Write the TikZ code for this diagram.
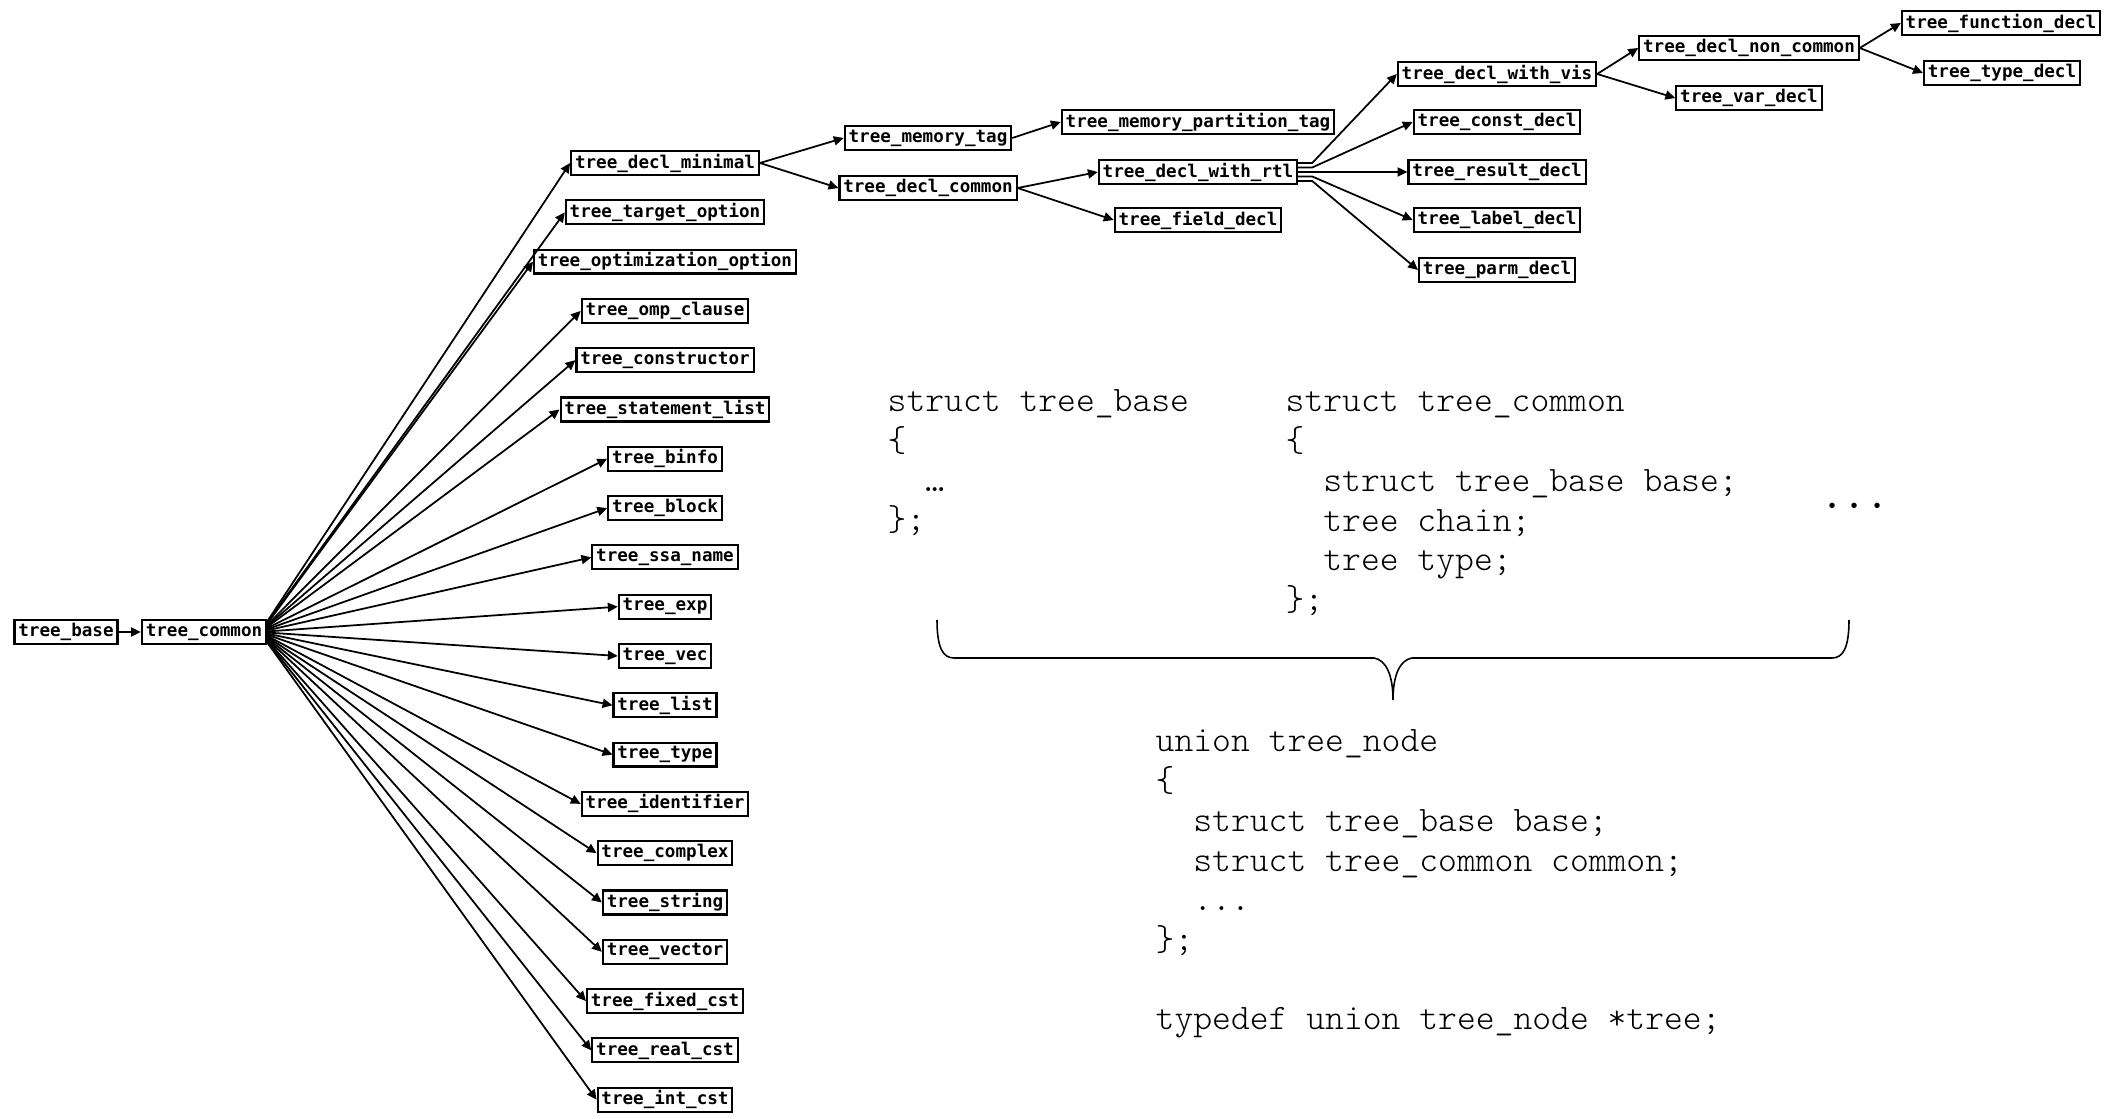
\documentclass[tikz,border=0pt]{standalone}
\usepackage{fontspec}
\newfontfamily\labelfont{DejaVu Sans Mono}
\usetikzlibrary{arrows.meta, calc}

\begin{document}
\begin{tikzpicture}[x=0.01cm, y=-0.01cm]
    \tikzstyle{box}  = [rectangle, draw=black, line width=0.6pt, inner xsep=1.1pt,
                        inner ysep=0pt, minimum height=6.8pt,
                        font=\labelfont\bfseries\fontsize{5}{6}\selectfont]
    \tikzstyle{arr}  = [-{Triangle[length=2.8pt, width=2.6pt]}, line width=0.5pt]
    \tikzstyle{code} = [anchor=base west, inner sep=0pt, align=left,
                        font=\ttfamily\fontseries{l}\fontsize{10.2}{11.3}\selectfont]

    \useasboundingbox (0,0) rectangle (2108,1119);

    % left part of the hierarchy
    \node (base)   [box] at (66,632)  {tree\_base};
    \node (common) [box] at (204,632) {tree\_common};

    \node (declmin)  [box] at (665,163)    {tree\_decl\_minimal};
    \node (target)   [box] at (665,212.3)  {tree\_target\_option};
    \node (optim)    [box] at (665,261.6)  {tree\_optimization\_option};
    \node (omp)      [box] at (665,310.9)  {tree\_omp\_clause};
    \node (ctor)     [box] at (665,360.2)  {tree\_constructor};
    \node (stmtlist) [box] at (665,409.5)  {tree\_statement\_list};
    \node (binfo)    [box] at (665,458.8)  {tree\_binfo};
    \node (block)    [box] at (665,508.1)  {tree\_block};
    \node (ssa)      [box] at (665,557.4)  {tree\_ssa\_name};
    \node (exp)      [box] at (665,606.7)  {tree\_exp};
    \node (vec)      [box] at (665,656)    {tree\_vec};
    \node (list)     [box] at (665,705.3)  {tree\_list};
    \node (type)     [box] at (665,754.6)  {tree\_type};
    \node (ident)    [box] at (665,803.9)  {tree\_identifier};
    \node (complex)  [box] at (665,853.2)  {tree\_complex};
    \node (string)   [box] at (665,902.5)  {tree\_string};
    \node (vector)   [box] at (665,951.8)  {tree\_vector};
    \node (fixed)    [box] at (665,1001.1) {tree\_fixed\_cst};
    \node (real)     [box] at (665,1050.4) {tree\_real\_cst};
    \node (int)      [box] at (665,1099.7) {tree\_int\_cst};

    % declarations
    \node (memtag)     [box] at (928,138)  {tree\_memory\_tag};
    \node (declcommon) [box] at (928,188)  {tree\_decl\_common};
    \node (mempart)    [box] at (1198,122) {tree\_memory\_partition\_tag};
    \node (rtl)        [box] at (1198,172) {tree\_decl\_with\_rtl};
    \node (field)      [box] at (1198,220) {tree\_field\_decl};
    \node (vis)        [box] at (1497,74)  {tree\_decl\_with\_vis};
    \node (const)      [box] at (1497,122) {tree\_const\_decl};
    \node (result)     [box] at (1497,172) {tree\_result\_decl};
    \node (label)      [box] at (1497,220) {tree\_label\_decl};
    \node (parm)       [box] at (1497,270) {tree\_parm\_decl};
    \node (noncommon)  [box] at (1749,48)  {tree\_decl\_non\_common};
    \node (var)        [box] at (1749,98)  {tree\_var\_decl};
    \node (function)   [box] at (2001,23)  {tree\_function\_decl};
    \node (typedecl)   [box] at (2002,73)  {tree\_type\_decl};

    \draw[arr] (base) -- (common);
    \foreach \dst [count=\k from 0] in {declmin, target, optim, omp, ctor, stmtlist,
        binfo, block, ssa, exp, vec, list, type, ident, complex, string, vector,
        fixed, real, int}
      \draw[arr] ($(common.north east)!{0.1+0.8*\k/19}!(common.south east)$) -- (\dst.west);

    \draw[arr] (declmin.east)    -- (memtag.west);
    \draw[arr] (declmin.east)    -- (declcommon.west);
    \draw[arr] (memtag.east)     -- (mempart.west);
    \draw[arr] (declcommon.east) -- (rtl.west);
    \draw[arr] (declcommon.east) -- (field.west);
    \foreach \dst/\dy in {vis/-9, const/-4.5, result/0, label/4.5, parm/9}
      \draw[arr] ($(rtl.east)+(0,\dy)$) -- ++(14,0) -- (\dst.west);
    \draw[arr] (vis.east)        -- (noncommon.west);
    \draw[arr] (vis.east)        -- (var.west);
    \draw[arr] (noncommon.east)  -- (function.west);
    \draw[arr] (noncommon.east)  -- (typedecl.west);

    % C declarations (anchored at the baseline of the last line)
    \node (cbase)   [code] at (887,531)
        {struct tree\_base\\ \{\\ \ \ \ldots\\ \};};
    \node (ccommon) [code] at (1285,610.5)
        {struct tree\_common\\ \{\\ \ \ struct tree\_base base;\\ \ \ tree chain;\\
         \ \ tree type;\\ \};};
    \node (more) at (1855,507) {\fontsize{15}{15}\selectfont$\cdots$};

    \draw[line width=0.45pt] (937,620) .. controls (937,648) and (943,658) .. (954,658)
        -- (1374,658) .. controls (1386,660) and (1393,675) .. (1393,700)
        .. controls (1393,675) and (1400,660) .. (1412,658)
        -- (1832,658) .. controls (1843,658) and (1849,648) .. (1849,620);

    \node (cunion) [code] at (1155,1030)
        {union tree\_node\\ \{\\ \ \ struct tree\_base base;\\
         \ \ struct tree\_common common;\\ \ \ ...\\ \};\\[11.3pt]
         typedef union tree\_node *tree;};
\end{tikzpicture}
\end{document}
